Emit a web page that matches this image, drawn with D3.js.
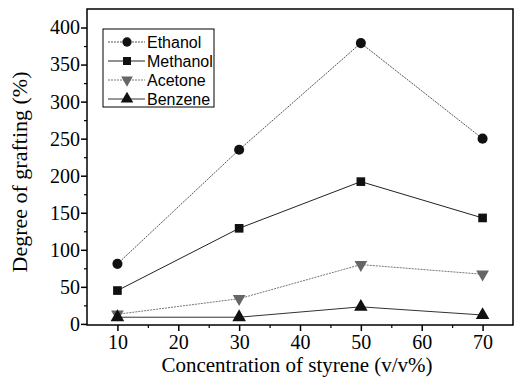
<!DOCTYPE html>
<html><head><meta charset="utf-8">
<script src="https://cdn.jsdelivr.net/npm/d3@7"></script>
<style>body{margin:0;background:#fff}</style>
</head><body>
<svg id="c" width="515" height="382"></svg>
<script>
const concentrations = [10, 30, 50, 70];
const ethanol = [81, 235, 379, 250];
const methanol = [45, 129, 192, 143];
const acetone = [13, 34, 80, 67];
const benzene = [9, 9, 23, 12];
const seriesNames = ["Ethanol", "Methanol", "Acetone", "Benzene"];
const xTicks = [10, 20, 30, 40, 50, 60, 70];
const yTicks = [0, 50, 100, 150, 200, 250, 300, 350, 400];

const series = [
  {name: seriesNames[0], values: ethanol, symbol: d3.symbolCircle, color: "#111", line: "#555", dash: "2,1", size: 80},
  {name: seriesNames[1], values: methanol, symbol: d3.symbolSquare, color: "#111", line: "#222", dash: null, size: 75},
  {name: seriesNames[2], values: acetone, symbol: d3.symbolTriangle, color: "#666", line: "#777", dash: "2,1", size: 70, rot: 180},
  {name: seriesNames[3], values: benzene, symbol: d3.symbolTriangle, color: "#111", line: "#333", dash: null, size: 80}
];

const svg = d3.select("#c");
const L = 87, R = 513, T = 9, B = 325;
const x = d3.scaleLinear().domain([5, 75]).range([L, R]);
const y = d3.scaleLinear().domain([-1.5, 425]).range([B, T]);

svg.append("rect").attr("x", L).attr("y", T).attr("width", R - L).attr("height", B - T)
  .attr("fill", "none").attr("stroke", "#000").attr("stroke-width", 1.5);

const serif = "'Liberation Serif','DejaVu Serif',serif";

const xAx = svg.append("g").attr("transform", `translate(0,${B})`)
  .call(d3.axisBottom(x).tickValues(xTicks).tickSize(6).tickSizeOuter(0).tickPadding(4).tickFormat(d3.format("d")));
xAx.select(".domain").remove();
xAx.selectAll("line").attr("stroke-width", 1.5);
xAx.selectAll("text").style("font-family", serif).style("font-size", "20px").attr("fill", "#000");
const xMinor = svg.append("g").attr("transform", `translate(0,${B})`)
  .call(d3.axisBottom(x).tickValues([15, 25, 35, 45, 55, 65]).tickSize(3).tickSizeOuter(0).tickFormat(""));
xMinor.select(".domain").remove();
xMinor.selectAll("line").attr("stroke-width", 1.2);

const yAx = svg.append("g").attr("transform", `translate(${L},0)`)
  .call(d3.axisLeft(y).tickValues(yTicks).tickSize(6).tickSizeOuter(0).tickPadding(1).tickFormat(d3.format("d")));
yAx.select(".domain").remove();
yAx.selectAll("line").attr("stroke-width", 1.5);
yAx.selectAll("text").style("font-family", serif).style("font-size", "20px").attr("fill", "#000");
const yMinor = svg.append("g").attr("transform", `translate(${L},0)`)
  .call(d3.axisLeft(y).tickValues([25, 75, 125, 175, 225, 275, 325, 375]).tickSize(3).tickSizeOuter(0).tickFormat(""));
yMinor.select(".domain").remove();
yMinor.selectAll("line").attr("stroke-width", 1.2);

svg.append("text").attr("x", 297).attr("y", 372).attr("text-anchor", "middle")
  .style("font-family", serif).style("font-size", "21px").text("Concentration of styrene (v/v%)");
svg.append("text").attr("transform", `translate(27,172) rotate(-90)`).attr("text-anchor", "middle")
  .style("font-family", serif).style("font-size", "22px").text("Degree of grafting (%)");

const lineGen = d3.line().x((d, i) => x(concentrations[i])).y(d => y(d));
series.forEach(s => {
  svg.append("path").datum(s.values).attr("d", lineGen).attr("fill", "none")
    .attr("stroke", s.line).attr("stroke-width", 1).attr("stroke-dasharray", s.dash);
  svg.append("g").selectAll("path").data(s.values).join("path")
    .attr("d", d3.symbol().type(s.symbol).size(s.size))
    .attr("transform", (d, i) => `translate(${x(concentrations[i])},${y(d)})` + (s.rot ? ` rotate(${s.rot})` : ""))
    .attr("fill", s.color);
});

const lg = svg.append("g");
lg.append("rect").attr("x", 103).attr("y", 29).attr("width", 111).attr("height", 78)
  .attr("fill", "#fff").attr("stroke", "#000").attr("stroke-width", 1);
series.forEach((s, i) => {
  const yy = 42 + i * 19;
  lg.append("line").attr("x1", 108).attr("x2", 145).attr("y1", yy).attr("y2", yy)
    .attr("stroke", s.line).attr("stroke-width", 1).attr("stroke-dasharray", s.dash);
  lg.append("path").attr("d", d3.symbol().type(s.symbol).size(s.size * 0.85))
    .attr("transform", `translate(127,${yy})` + (s.rot ? ` rotate(${s.rot})` : "")).attr("fill", s.color);
  lg.append("text").attr("x", 147).attr("y", yy + 6).style("font-family", "'Liberation Sans',Arial,sans-serif")
    .style("font-size", "16px").text(s.name);
});
</script>
</body></html>
